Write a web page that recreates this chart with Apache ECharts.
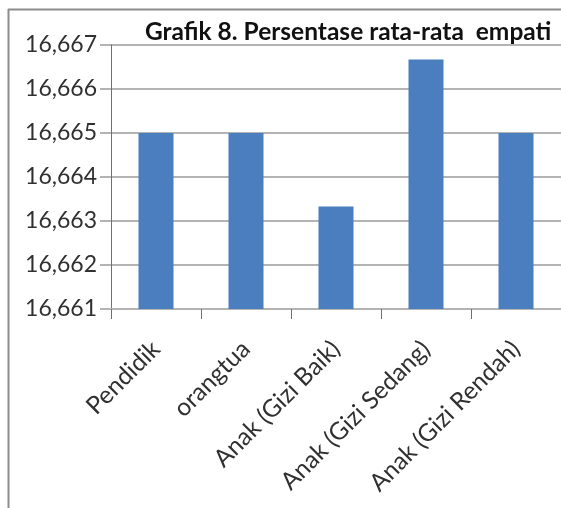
<!DOCTYPE html>
<html>
<head>
<meta charset="utf-8">
<script src="https://cdn.jsdelivr.net/npm/echarts@6/dist/echarts.min.js"></script>
<style>
  html, body { margin: 0; padding: 0; background: #fff; }
  #chart { width: 561px; height: 508px; }
</style>
</head>
<body>
<div id="chart"></div>
<script>
// Rata-rata empati per kelompok responden
const categories = ['Pendidik', 'orangtua', 'Anak (Gizi Baik)', 'Anak (Gizi Sedang)', 'Anak (Gizi Rendah)'];
const values = [16.665, 16.665, 16.66333, 16.66667, 16.665];
const yTicks = { min: 16.661, max: 16.667, interval: 0.001 };
const titleText = 'Grafik 8. Persentase rata-rata  empati';

const font = 'Lato, "Open Sans", "Liberation Sans", sans-serif';
const chart = echarts.init(document.getElementById('chart'), null, { renderer: 'canvas' });

chart.setOption({
  animation: false,
  backgroundColor: '#ffffff',
  title: {
    text: titleText,
    left: 145,
    top: 20,
    padding: 0,
    textStyle: { fontFamily: font, fontWeight: 'bold', fontSize: 24.5, color: '#111' }
  },
  grid: { left: 111, top: 45, width: 453, height: 264, containLabel: false },
  xAxis: {
    type: 'category',
    data: categories,
    axisLine: { lineStyle: { color: '#b4b4b4', width: 2 } },
    axisTick: { show: true, length: 10, lineStyle: { color: '#707070', width: 1 } },
    axisLabel: {
      rotate: 45,
      margin: 36,
      fontFamily: font,
      fontSize: 24.5,
      color: '#303030'
    }
  },
  yAxis: {
    type: 'value',
    min: yTicks.min,
    max: yTicks.max,
    interval: yTicks.interval,
    axisLine: { show: true, lineStyle: { color: '#707070', width: 1 } },
    axisTick: { show: true, length: 11, lineStyle: { color: '#b4b4b4', width: 2 } },
    splitLine: { show: true, lineStyle: { color: '#b4b4b4', width: 2 } },
    axisLabel: {
      margin: 14,
      fontFamily: font,
      fontSize: 23,
      color: '#303030',
      formatter: v => v.toFixed(3).replace('.', ',')
    }
  },
  series: [{
    type: 'bar',
    data: values,
    barWidth: 35,
    itemStyle: { color: '#4a7ebf' }
  }],
  graphic: [
    { type: 'line', shape: { x1: 8.5, y1: 9, x2: 8.5, y2: 508 }, style: { stroke: '#8c8c8c', lineWidth: 2 }, z: 100 },
    { type: 'line', shape: { x1: 8, y1: 9.5, x2: 561, y2: 9.5 }, style: { stroke: '#8c8c8c', lineWidth: 2 }, z: 100 }
  ]
});
</script>
</body>
</html>
